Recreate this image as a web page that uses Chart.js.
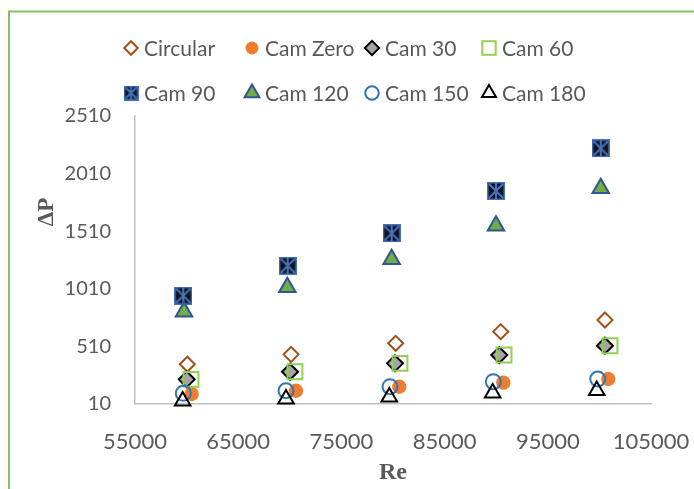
<!DOCTYPE html>
<html>
<head>
<meta charset="utf-8">
<script src="https://cdn.jsdelivr.net/npm/chart.js@4.4.1/dist/chart.umd.min.js"></script>
<style>
    html, body { margin: 0; padding: 0; background: #fff; }
    #wrap { width: 694px; height: 489px; }
</style>
</head>
<body>
<div id="wrap"><canvas id="dpChart" width="694" height="489"></canvas></div>
<script>
// data
const seriesNames = ['Circular', 'Cam Zero', 'Cam 30', 'Cam 60', 'Cam 90', 'Cam 120', 'Cam 150', 'Cam 180'];

const reCircular = [60070, 70120, 80260, 90440, 100540];
const dpCircular = [355, 441, 537, 638, 739];
const reCamZero = [60490, 70600, 80610, 90690, 100860];
const dpCamZero = [97, 125, 160, 195, 227];
const reCam30 = [60010, 70020, 80190, 90300, 100540];
const dpCam30 = [224, 290, 363, 435, 516];
const reCam60 = [60430, 70500, 80680, 90760, 101030];
const dpCam60 = [224, 290, 363, 435, 516];
const reCam90 = [59680, 69800, 79870, 89980, 100130];
const dpCam90 = [950, 1210, 1492, 1859, 2229];
const reCam120 = [59750, 69760, 79870, 89980, 100130];
const dpCam120 = [811, 1023, 1266, 1558, 1882];
const reCam150 = [59680, 69630, 79710, 89720, 99840];
const dpCam150 = [103, 125, 160, 204, 227];
const reCam180 = [59620, 69630, 79640, 89660, 99740];
const dpCam180 = [36, 53, 71, 105, 127];

const xTicks = [55000, 65000, 75000, 85000, 95000, 105000];
const yTicks = [10, 510, 1010, 1510, 2010, 2510];

const textColor = '#595959';

// square with blue asterisk (Excel marker for Cam 90)
function makeCam90Marker(size) {
    const c = document.createElement('canvas');
    c.width = size; c.height = size;
    const g = c.getContext('2d');
    g.fillStyle = '#141414';
    g.fillRect(0, 0, size, size);
    g.strokeStyle = '#4472C4';
    g.lineWidth = 1.5;
    g.strokeRect(0.75, 0.75, size - 1.5, size - 1.5);
    g.lineWidth = 2;
    g.beginPath();
    g.moveTo(2, 2); g.lineTo(size - 2, size - 2);
    g.moveTo(size - 2, 2); g.lineTo(2, size - 2);
    g.moveTo(size / 2, 1); g.lineTo(size / 2, size - 1);
    g.stroke();
    return c;
}
const cam90Marker = makeCam90Marker(18);
const cam90LegendMarker = makeCam90Marker(15);

function pts(xs, ys) {
    return xs.map((x, i) => ({ x, y: ys[i] }));
}

const styles = [
    { pointStyle: 'rectRot', pointRadius: 7.5, pointBackgroundColor: 'rgba(0,0,0,0)', pointBorderColor: '#A0501A', pointBorderWidth: 2 },
    { pointStyle: 'circle', pointRadius: 7.2, pointBackgroundColor: '#ED7D31', pointBorderColor: '#ED7D31', pointBorderWidth: 0 },
    { pointStyle: 'rectRot', pointRadius: 8, pointBackgroundColor: '#A5A5A5', pointBorderColor: '#000000', pointBorderWidth: 2 },
    { pointStyle: 'rect', pointRadius: 10.5, pointBackgroundColor: 'rgba(0,0,0,0)', pointBorderColor: '#92D050', pointBorderWidth: 2 },
    { pointStyle: cam90Marker, pointRadius: 9, pointBackgroundColor: '#141414', pointBorderColor: '#4472C4', pointBorderWidth: 0 },
    { pointStyle: 'triangle', pointRadius: 9.5, pointBackgroundColor: '#70AD47', pointBorderColor: '#2F5597', pointBorderWidth: 2 },
    { pointStyle: 'circle', pointRadius: 7.5, pointBackgroundColor: 'rgba(0,0,0,0)', pointBorderColor: '#2E75B6', pointBorderWidth: 2 },
    { pointStyle: 'triangle', pointRadius: 9, pointBackgroundColor: 'rgba(0,0,0,0)', pointBorderColor: '#000000', pointBorderWidth: 2 }
];

const seriesData = [
    pts(reCircular, dpCircular),
    pts(reCamZero, dpCamZero),
    pts(reCam30, dpCam30),
    pts(reCam60, dpCam60),
    pts(reCam90, dpCam90),
    pts(reCam120, dpCam120),
    pts(reCam150, dpCam150),
    pts(reCam180, dpCam180)
];

// legend grid like the Excel one (4 per row) + ΔP title + green frame
const legendCols = [131, 252, 372, 489];
const legendRows = [48, 93];

const excelExtras = {
    id: 'excelExtras',
    beforeDraw(chart) {
        const ctx = chart.ctx;
        ctx.save();
        ctx.strokeStyle = '#86BF60';
        ctx.lineWidth = 2;
        ctx.beginPath();
        ctx.moveTo(9, 489);
        ctx.lineTo(9, 11.5);
        ctx.lineTo(694, 11.5);
        ctx.stroke();
        ctx.restore();
    },
    afterDraw(chart) {
        const ctx = chart.ctx;
        ctx.save();
        chart.data.datasets.forEach((ds, i) => {
            const x = legendCols[i % 4];
            const y = legendRows[Math.floor(i / 4)];
            ctx.fillStyle = ds.pointBackgroundColor;
            ctx.strokeStyle = ds.pointBorderColor;
            ctx.lineWidth = ds.pointBorderWidth;
            const style = ds.pointStyle === cam90Marker ? cam90LegendMarker : ds.pointStyle;
            Chart.helpers.drawPoint(ctx, {
                pointStyle: style,
                radius: ds.pointRadius * 0.9,
                rotation: 0,
                borderWidth: ds.pointBorderWidth
            }, x, y);
            ctx.fillStyle = textColor;
            ctx.font = '21px Lato';
            ctx.textAlign = 'left';
            ctx.textBaseline = 'middle';
            ctx.fillText(ds.label, x + 13, y + 1);
        });

        ctx.translate(47, 212);
        ctx.rotate(-Math.PI / 2);
        ctx.fillStyle = textColor;
        ctx.font = 'bold 23px "Liberation Serif"';
        ctx.textAlign = 'center';
        ctx.textBaseline = 'middle';
        ctx.fillText('ΔP', 0, 0);
        ctx.restore();
    }
};

const ctx = document.getElementById('dpChart').getContext('2d');

new Chart(ctx, {
    type: 'scatter',
    data: {
        datasets: seriesNames.map((name, i) => ({
            label: name,
            data: seriesData[i],
            showLine: false,
            clip: false,
            order: seriesNames.length - i,
            ...styles[i],
            pointHoverRadius: styles[i].pointRadius
        }))
    },
    options: {
        responsive: false,
        animation: false,
        layout: { padding: { top: 116, right: 43, left: 0, bottom: 0 } },
        plugins: {
            legend: { display: false },
            tooltip: { enabled: false }
        },
        scales: {
            x: {
                type: 'linear',
                min: 55000,
                max: 105000,
                afterBuildTicks: s => { s.ticks = xTicks.map(v => ({ value: v })); },
                afterFit: s => { s.height = 85; s.paddingLeft = 0; s.paddingRight = 0; },
                grid: { display: false, drawTicks: false },
                border: { display: true, color: '#BFBFBF', width: 1.5 },
                ticks: {
                    color: textColor,
                    font: { family: 'Lato', size: 22 },
                    padding: 25,
                    maxRotation: 0,
                    callback: v => String(v)
                },
                title: {
                    display: true,
                    text: 'Re',
                    color: textColor,
                    font: { family: '"Liberation Serif"', size: 24, weight: 'bold' },
                    padding: { top: 0, bottom: 2 }
                }
            },
            y: {
                type: 'linear',
                min: 10,
                max: 2510,
                afterBuildTicks: s => { s.ticks = yTicks.map(v => ({ value: v })); },
                afterFit: s => { s.width = 135; },
                grid: { display: false, drawTicks: false },
                border: { display: true, color: '#BFBFBF', width: 1.5 },
                ticks: {
                    color: textColor,
                    font: { family: 'Lato', size: 20 },
                    padding: 24,
                    callback: v => String(v)
                }
            }
        }
    },
    plugins: [excelExtras]
});
</script>
</body>
</html>
